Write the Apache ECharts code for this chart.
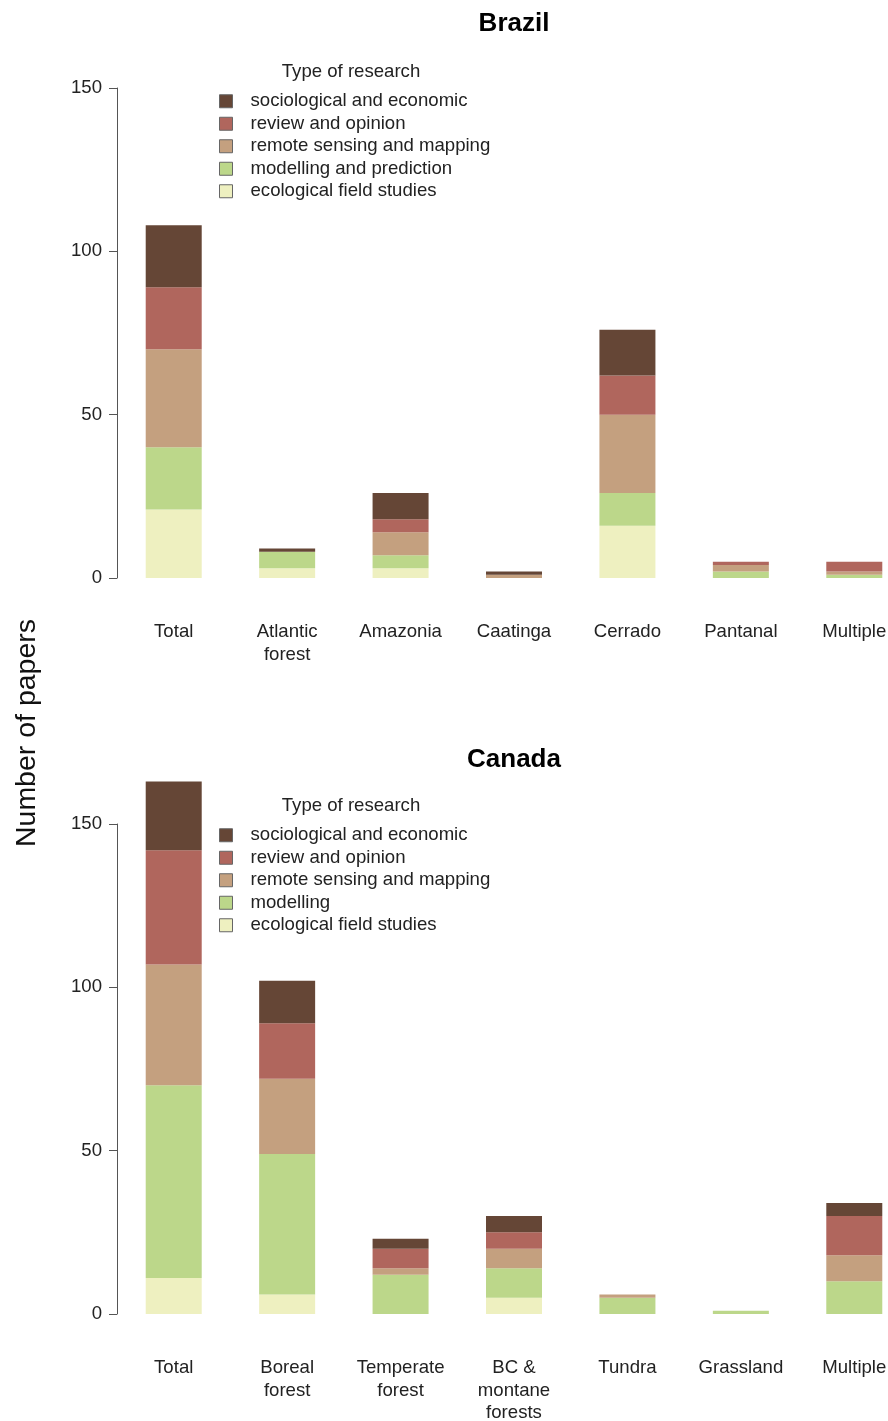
<!DOCTYPE html>
<html>
<head>
<meta charset="utf-8">
<script src="https://cdn.jsdelivr.net/npm/echarts@6/dist/echarts.min.js"></script>
<style>
html,body{margin:0;padding:0;background:#fff;}
#chart{width:888px;height:1421px;}
</style>
</head>
<body>
<div id="chart"></div>
<script>
// ---- Data ----
const brazilCats = ['Total', 'Atlantic\nforest', 'Amazonia', 'Caatinga', 'Cerrado', 'Pantanal', 'Multiple'];
const brField     = [21, 3, 3, 0, 16, 0, 0];
const brModelling = [19, 5, 4, 0, 10, 2, 1];
const brRemote    = [30, 0, 7, 1, 24, 2, 1];
const brReview    = [19, 0, 4, 0, 12, 1, 3];
const brSocio     = [19, 1, 8, 1, 14, 0, 0];

const canadaCats = ['Total', 'Boreal\nforest', 'Temperate\nforest', 'BC &\nmontane\nforests', 'Tundra', 'Grassland', 'Multiple'];
const caField     = [11, 6, 0, 5, 0, 0, 0];
const caModelling = [59, 43, 12, 9, 5, 1, 10];
const caRemote    = [37, 23, 2, 6, 1, 0, 8];
const caReview    = [35, 17, 6, 5, 0, 0, 12];
const caSocio     = [21, 13, 3, 5, 0, 0, 4];

const yTicks = [0, 50, 100, 150];

const brNames = ['ecological field studies', 'modelling and prediction', 'remote sensing and mapping', 'review and opinion', 'sociological and economic'];
const caNames = ['ecological field studies', 'modelling', 'remote sensing and mapping', 'review and opinion', 'sociological and economic'];
const colors = ['#eef0c0', '#bcd78a', '#c4a07f', '#b0665d', '#654636'];

// ---- Chart ----
const FONT = '"Liberation Sans", Arial, sans-serif';
const chart = echarts.init(document.getElementById('chart'), null, {renderer: 'canvas'});

function yAxis(gi) {
  return {
    type: 'value', gridIndex: gi, min: yTicks[0], max: yTicks[yTicks.length - 1], interval: 50,
    axisLine: {show: true, lineStyle: {color: '#555', width: 1}},
    axisTick: {show: true, length: 8, lineStyle: {color: '#555'}},
    axisLabel: {margin: 15, fontSize: 18.6, color: '#222', fontFamily: FONT},
    splitLine: {show: false}
  };
}
function xAxis(gi, cats) {
  return {
    type: 'category', gridIndex: gi, data: cats,
    axisLine: {show: false}, axisTick: {show: false},
    axisLabel: {margin: 43, fontSize: 18.6, color: '#222', fontFamily: FONT, lineHeight: 22.5, interval: 0}
  };
}
function series(gi, names, arrs, stack) {
  return arrs.map((d, i) => ({
    name: names[i], type: 'bar', stack: stack, xAxisIndex: gi, yAxisIndex: gi,
    data: d, barWidth: 56, clip: false,
    itemStyle: {color: colors[i]}, emphasis: {disabled: true}
  }));
}
function legend(top, names) {
  return {
    orient: 'vertical', left: 219, top: top, padding: 0, itemWidth: 13, itemHeight: 13, itemGap: 0,
    data: names.slice().reverse(),
    icon: 'rect',
    itemStyle: {borderColor: '#666', borderWidth: 1},
    textStyle: {fontSize: 18.6, color: '#222', fontFamily: FONT, lineHeight: 22.5, padding: [0, 0, 0, 13]},
    selectedMode: false
  };
}
const titleStyle = {fontSize: 26, fontWeight: 'bold', color: '#000', fontFamily: FONT};
const subStyle = {fontSize: 18.6, fontWeight: 'normal', color: '#222', fontFamily: FONT};

const option = {
  animation: false,
  backgroundColor: '#fff',
  title: [
    {text: 'Brazil', left: 514, textAlign: 'center', top: 11, padding: 0, textStyle: titleStyle},
    {text: 'Canada', left: 514, textAlign: 'center', top: 747, padding: 0, textStyle: titleStyle},
    {text: 'Type of research', left: 351, textAlign: 'center', top: 62, padding: 0, textStyle: subStyle},
    {text: 'Type of research', left: 351, textAlign: 'center', top: 796, padding: 0, textStyle: subStyle}
  ],
  legend: [legend(90, brNames), legend(824, caNames)],
  grid: [
    {left: 117, top: 88, width: 794, height: 490, containLabel: false, outerBoundsMode: 'none'},
    {left: 117, top: 824, width: 794, height: 490, containLabel: false, outerBoundsMode: 'none'}
  ],
  xAxis: [xAxis(0, brazilCats), xAxis(1, canadaCats)],
  yAxis: [yAxis(0), yAxis(1)],
  series: [].concat(
    series(0, brNames, [brField, brModelling, brRemote, brReview, brSocio], 'br'),
    series(1, caNames, [caField, caModelling, caRemote, caReview, caSocio], 'ca')
  ),
  graphic: [{
    type: 'text', x: 27, y: 733, rotation: Math.PI / 2,
    style: {text: 'Number of papers', fontSize: 28.5, fill: '#111', fontFamily: FONT, align: 'center', verticalAlign: 'middle'}
  }]
};
chart.setOption(option);
</script>
</body>
</html>
